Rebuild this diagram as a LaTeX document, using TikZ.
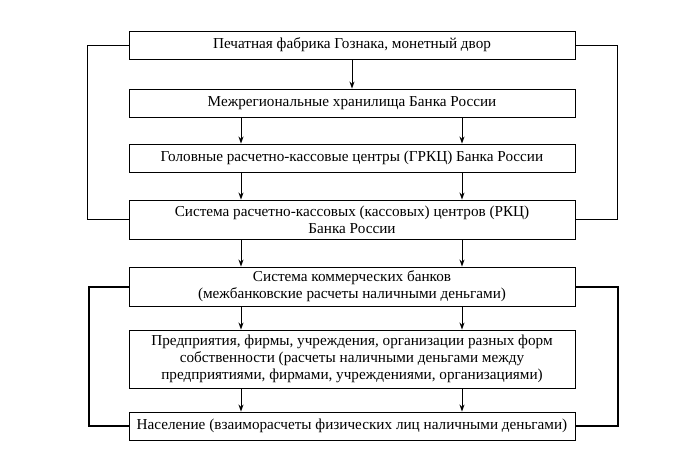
\documentclass[tikz,border=0pt]{standalone}
\usepackage{fontspec}
\setmainfont{Liberation Serif}
\usetikzlibrary{arrows.meta}
\begin{document}
\begin{tikzpicture}[x=1pt,y=-1pt,
  box/.style={draw,line width=0.9pt,minimum width=446pt,inner xsep=2pt,inner ysep=0pt,align=center,font=\fontsize{15.2}{17}\selectfont},
  arr/.style={-{Stealth[length=7pt,width=5pt]},line width=0.9pt},
  fb/.style={line width=0.9pt},
  fbt/.style={line width=2pt}]
\useasboundingbox (0,0) rectangle (700,470);
\node[box,minimum height=28pt] (b1) at (352,45) {Печатная фабрика Гознака, монетный двор};
\node[box,minimum height=28pt] (b2) at (352,103) {Межрегиональные хранилища Банка России};
\node[box,minimum height=28pt] (b3) at (352,158) {Головные расчетно-кассовые центры (ГРКЦ) Банка России};
\node[box,minimum height=39pt] (b4) at (352,219.5) {Система расчетно-кассовых (кассовых) центров (РКЦ)\\Банка России};
\node[box,minimum height=39pt] (b5) at (352,286.5) {Система коммерческих банков\\(межбанковские расчеты наличными деньгами)};
\node[box,minimum height=58pt] (b6) at (352,359) {Предприятия, фирмы, учреждения, организации разных форм\\собственности (расчеты наличными деньгами между\\предприятиями, фирмами, учреждениями, организациями)};
\node[box,minimum height=28pt] (b7) at (352,426) {Население (взаиморасчеты физических лиц наличными деньгами)};
\draw[arr] (b1) -- (b2);
\foreach \a/\b in {b2/b3,b3/b4,b4/b5,b5/b6,b6/b7}{
  \draw[arr] ([xshift=-111pt]\a.south) -- ([xshift=-111pt]\b.north);
  \draw[arr] ([xshift=110pt]\a.south) -- ([xshift=110pt]\b.north);
}
\draw[fb] (b1.west) -- ++(-41,0) coordinate (l1) |- (b4.west);
\draw[fb] (b1.east) -- ++(42,0) coordinate (r1) |- (b4.east);
\draw[fbt] (b5.west) -- ++(-40,0) coordinate (l2) |- (b7.west);
\draw[fbt] (b5.east) -- ++(43,0) coordinate (r2) |- (b7.east);
\end{tikzpicture}
\end{document}
